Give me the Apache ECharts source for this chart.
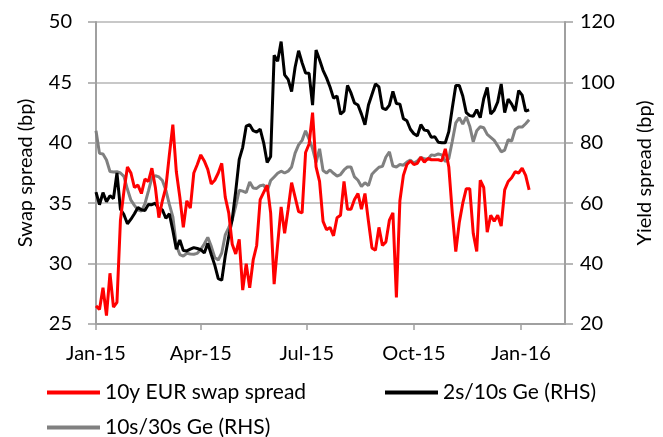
<!DOCTYPE html>
<html>
<head>
<meta charset="utf-8">
<script src="https://cdn.jsdelivr.net/npm/echarts@6/dist/echarts.min.js"></script>
<style>
html,body{margin:0;padding:0;background:#fff;}
#chart{width:663px;height:437px;}
</style>
</head>
<body>
<div id="chart"></div>
<script>
// Observation dates (every 3 days)
var dates = [
'2015-01-01','2015-01-04','2015-01-07','2015-01-10','2015-01-13','2015-01-16','2015-01-19','2015-01-22','2015-01-25','2015-01-28',
'2015-01-31','2015-02-03','2015-02-06','2015-02-09','2015-02-12','2015-02-15','2015-02-18','2015-02-21','2015-02-24','2015-02-27',
'2015-03-02','2015-03-05','2015-03-08','2015-03-11','2015-03-14','2015-03-17','2015-03-20','2015-03-23','2015-03-26','2015-03-29',
'2015-04-01','2015-04-04','2015-04-07','2015-04-10','2015-04-13','2015-04-16','2015-04-19','2015-04-22','2015-04-25','2015-04-28',
'2015-05-01','2015-05-04','2015-05-07','2015-05-10','2015-05-13','2015-05-16','2015-05-19','2015-05-22','2015-05-25','2015-05-28',
'2015-05-31','2015-06-03','2015-06-06','2015-06-09','2015-06-12','2015-06-15','2015-06-18','2015-06-21','2015-06-24','2015-06-27',
'2015-06-30','2015-07-03','2015-07-06','2015-07-09','2015-07-12','2015-07-15','2015-07-18','2015-07-21','2015-07-24','2015-07-27',
'2015-07-30','2015-08-02','2015-08-05','2015-08-08','2015-08-11','2015-08-14','2015-08-17','2015-08-20','2015-08-23','2015-08-26',
'2015-08-29','2015-09-01','2015-09-04','2015-09-07','2015-09-10','2015-09-13','2015-09-16','2015-09-19','2015-09-22','2015-09-25',
'2015-09-28','2015-10-01','2015-10-04','2015-10-07','2015-10-10','2015-10-13','2015-10-16','2015-10-19','2015-10-22','2015-10-25',
'2015-10-28','2015-10-31','2015-11-03','2015-11-06','2015-11-09','2015-11-12','2015-11-15','2015-11-18','2015-11-21','2015-11-24',
'2015-11-27','2015-11-30','2015-12-03','2015-12-06','2015-12-09','2015-12-12','2015-12-15','2015-12-18','2015-12-21','2015-12-24',
'2015-12-27','2015-12-30','2016-01-02','2016-01-05','2016-01-08'
];

// 10y EUR swap spread (bp, left axis)
var swapSpread = [
26.5,26.2,28.0,25.7,29.2,26.4,26.8,33.6,36.0,38.0,
37.5,36.3,36.5,35.8,37.0,36.8,37.9,36.3,33.8,35.2,
36.3,39.0,41.5,37.6,35.5,33.0,35.2,34.6,37.5,38.2,
39.0,38.5,37.8,36.6,36.9,37.5,38.3,35.5,34.2,31.6,
30.8,32.0,27.8,30.0,28.0,30.3,31.5,35.3,35.9,36.5,
34.2,28.3,31.6,34.7,32.5,34.5,36.7,35.5,34.3,34.2,
39.2,39.9,42.5,38.0,36.8,33.5,32.8,33.0,32.3,33.8,
34.0,36.8,34.5,34.5,35.3,35.8,34.5,35.8,33.5,31.3,
31.1,33.0,31.5,31.8,33.6,34.2,27.2,35.2,37.3,38.2,
38.5,38.2,38.3,38.8,38.4,38.7,38.6,38.6,38.6,38.5,
39.5,38.0,34.2,31.0,33.4,35.0,36.2,36.2,32.5,31.0,
36.9,36.3,32.6,34.0,33.5,34.0,33.1,36.1,36.8,37.1,
37.6,37.5,37.9,37.3,36.1
];

// 2s/10s Germany (bp, right axis)
var ge2s10s = [
63.7,59.5,63.5,60.5,62.5,61.5,70.0,58.0,56.2,53.2,
54.7,56.5,58.6,57.8,57.6,59.6,59.5,60.0,58.0,57.8,
55.0,56.5,51.0,44.8,47.8,44.3,44.2,44.8,45.3,45.0,
44.6,43.5,46.7,43.0,39.5,35.0,34.5,42.5,49.0,54.6,
64.0,74.5,78.5,85.5,86.0,84.0,83.5,84.5,80.0,73.5,
75.5,109.0,107.0,113.5,102.5,101.0,97.0,105.0,110.5,106.5,
103.1,103.0,92.5,110.7,107.5,104.0,101.5,98.5,94.8,95.5,
89.5,90.5,99.0,96.5,93.2,92.5,89.5,86.0,92.5,96.0,
99.5,98.5,91.5,91.0,92.5,97.0,93.0,92.8,88.0,87.3,
84.5,83.0,82.3,86.0,84.2,84.0,81.8,82.0,80.2,80.0,
80.0,83.7,91.5,99.0,99.0,95.5,90.0,89.0,88.8,91.0,
88.3,94.6,98.3,89.5,90.8,93.5,99.5,90.0,94.5,92.8,
90.5,97.3,95.8,90.5,90.9
];

// 10s/30s Germany (bp, right axis)
var ge10s30s = [
84.0,76.5,76.3,74.3,70.5,70.3,70.4,70.0,68.9,64.6,
61.0,59.3,57.8,57.4,59.8,64.0,68.5,69.1,68.7,67.5,
64.3,59.6,55.5,46.0,43.0,42.5,43.4,43.2,43.1,43.4,
44.7,46.5,48.7,45.7,42.0,41.2,43.5,49.5,51.9,54.5,
59.0,64.3,64.0,63.5,67.0,65.0,64.9,65.8,66.0,64.0,
67.5,68.7,69.9,70.6,70.0,70.6,72.0,76.6,79.3,80.8,
84.0,81.2,78.1,73.5,78.0,70.8,70.0,71.0,69.9,69.0,
69.5,71.0,72.0,72.0,68.7,67.6,65.5,66.8,65.8,69.6,
70.8,71.9,72.2,75.3,77.0,72.3,72.0,72.8,72.6,73.6,
74.3,73.3,74.0,75.2,74.7,74.5,76.0,75.8,76.3,76.0,
73.8,74.8,80.5,86.6,88.3,86.2,88.6,85.5,80.3,84.0,
85.3,85.0,82.8,81.8,80.8,79.0,77.0,77.6,81.0,80.6,
84.4,85.2,85.2,86.3,87.6
];

var seriesNames = ['10y EUR swap spread', '2s/10s Ge (RHS)', '10s/30s Ge (RHS)'];
var tickDates = ['2015-01-01','2015-04-01','2015-07-01','2015-10-01','2016-01-01'];
var monthNames = ['Jan','Feb','Mar','Apr','May','Jun','Jul','Aug','Sep','Oct','Nov','Dec'];

var DAY = 86400000;
function utc(s){ var p = s.split('-'); return Date.UTC(+p[0], +p[1]-1, +p[2]); }
var T0 = utc('2015-01-01');
function dayNum(s){ return Math.round((utc(s) - T0) / DAY); }
function zip(vals){ return vals.map(function(v,i){ return [dayNum(dates[i]), v]; }); }

var tickDays = tickDates.map(dayNum);
var xMaxDays = 402.8;

var FONT = 'Lato';
var axisGray = '#A0A0A0';
var gridGray = '#C8C8C8';
var legendText = { fontFamily: FONT, fontSize: 21, color: '#000' };

var chart = echarts.init(document.getElementById('chart'));
chart.setOption({
  animation: false,
  backgroundColor: '#fff',
  grid: { left: 96, right: 88, top: 22, bottom: 113, containLabel: false },
  legend: [
    { data: [seriesNames[0]], left: 42, top: 377, itemWidth: 53, itemHeight: 4, icon: 'rect', itemGap: 0, textStyle: legendText },
    { data: [seriesNames[1]], left: 380, top: 377, itemWidth: 53, itemHeight: 4, icon: 'rect', itemGap: 0, textStyle: legendText },
    { data: [seriesNames[2]], left: 42, top: 412, itemWidth: 53, itemHeight: 4, icon: 'rect', itemGap: 0, textStyle: legendText }
  ],
  xAxis: {
    type: 'value',
    min: 0,
    max: xMaxDays,
    axisLine: { show: true, onZero: false, lineStyle: { color: axisGray, width: 2 } },
    axisTick: { show: true, length: 6, lineStyle: { color: axisGray, width: 1.5 }, customValues: tickDays },
    axisLabel: {
      customValues: tickDays,
      margin: 20,
      fontFamily: FONT, fontSize: 20, color: '#000',
      formatter: function (v) {
        var d = new Date(T0 + v * DAY);
        var yy = String(d.getUTCFullYear()).slice(2);
        return monthNames[d.getUTCMonth()] + '-' + yy;
      }
    },
    splitLine: { show: false }
  },
  yAxis: [
    {
      type: 'value', min: 25, max: 50, interval: 5, position: 'left',
      name: 'Swap spread (bp)', nameLocation: 'middle', nameGap: 60, nameRotate: 90,
      nameTextStyle: { fontFamily: FONT, fontSize: 20, color: '#000' },
      axisLine: { show: true, lineStyle: { color: axisGray, width: 2 } },
      axisTick: { show: true, inside: false, length: 8, lineStyle: { color: axisGray, width: 1.5 } },
      axisLabel: { margin: 24, fontFamily: FONT, fontSize: 20, color: '#000' },
      splitLine: { show: true, lineStyle: { color: gridGray, width: 2 } }
    },
    {
      type: 'value', min: 20, max: 120, interval: 20, position: 'right',
      name: 'Yield spread (bp)', nameLocation: 'middle', nameGap: 70, nameRotate: 90,
      nameTextStyle: { fontFamily: FONT, fontSize: 20, color: '#000' },
      axisLine: { show: true, lineStyle: { color: axisGray, width: 2 } },
      axisTick: { show: true, inside: false, length: 8, lineStyle: { color: axisGray, width: 1.5 } },
      axisLabel: { margin: 15, fontFamily: FONT, fontSize: 20, color: '#000' },
      splitLine: { show: false }
    }
  ],
  series: [
    { name: seriesNames[0], type: 'line', yAxisIndex: 0, data: zip(swapSpread), showSymbol: false, z: 4,
      lineStyle: { color: '#FF0000', width: 3 }, itemStyle: { color: '#FF0000' } },
    { name: seriesNames[1], type: 'line', yAxisIndex: 1, data: zip(ge2s10s), showSymbol: false, z: 3,
      lineStyle: { color: '#000000', width: 3 }, itemStyle: { color: '#000000' } },
    { name: seriesNames[2], type: 'line', yAxisIndex: 1, data: zip(ge10s30s), showSymbol: false, z: 2,
      lineStyle: { color: '#808080', width: 3 }, itemStyle: { color: '#808080' } }
  ]
});
</script>
</body>
</html>
